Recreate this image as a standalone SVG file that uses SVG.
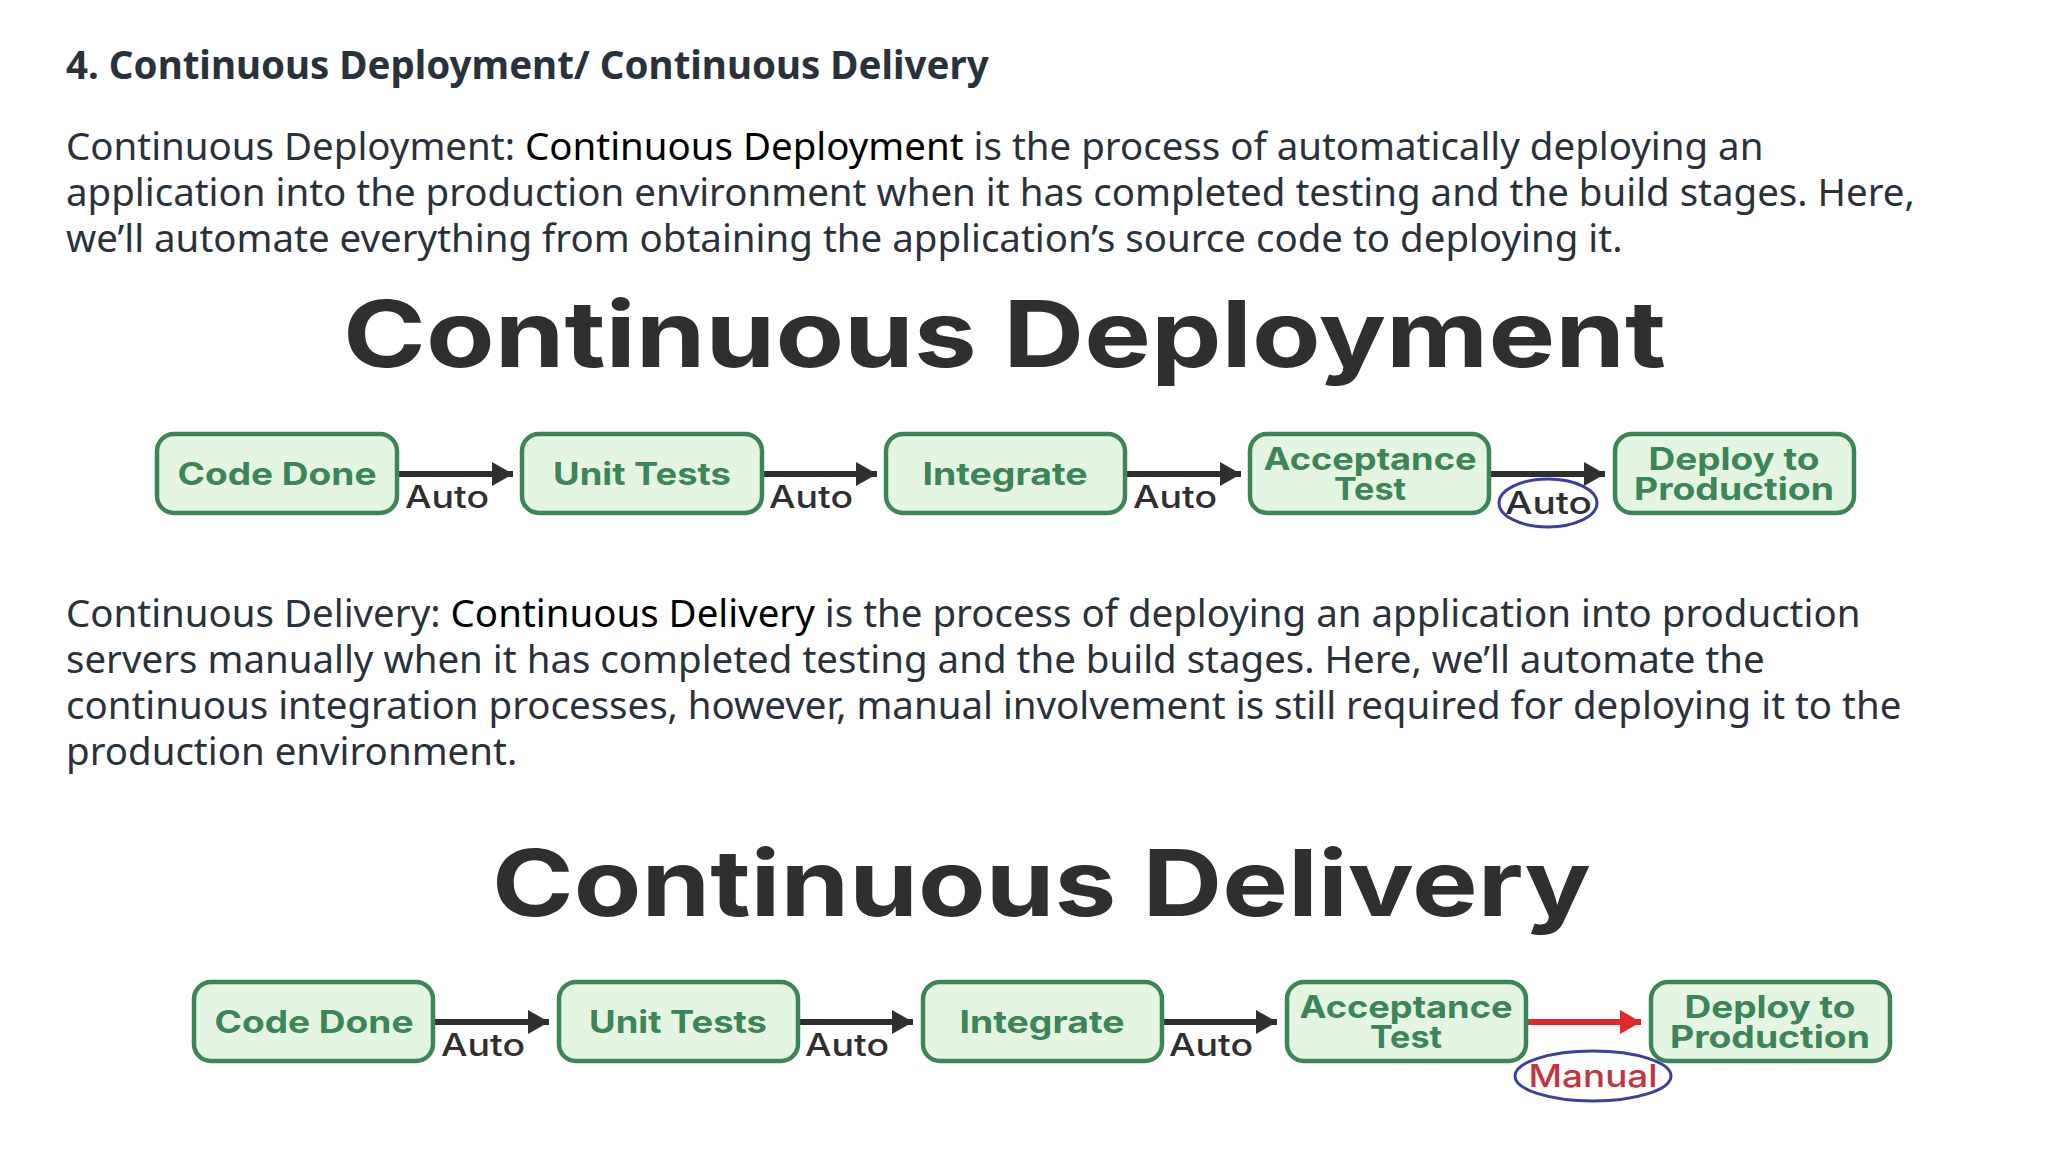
<svg xmlns="http://www.w3.org/2000/svg" width="2048" height="1152" viewBox="0 0 2048 1152">
<style>
.h{font:700 38.5px "Noto Sans",sans-serif;fill:#29323b}
.b{font:400 38.45px "Noto Sans",sans-serif;fill:#29323b}
.k{fill:#000}
.t{font:700 92px "Inter",sans-serif;fill:#2f2f2f}
.box{fill:#e4f6e2;stroke:#3b8557;stroke-width:4.5}
.n{font:700 31px "Inter",sans-serif;fill:#3b8557;text-anchor:middle}
.a{font:500 31px "Inter",sans-serif;fill:#2f2f2f}
.m{font:500 31px "Inter",sans-serif;fill:#c4343f;text-anchor:middle}
.e{fill:none;stroke:#3d3f9e;stroke-width:3}
.c{stroke:#2f2f2f;stroke-width:6;fill:none;marker-end:url(#ah)}
.r{stroke:#e0282c;stroke-width:6;fill:none;marker-end:url(#ar)}
</style>
<defs>
<marker id="ah" markerUnits="userSpaceOnUse" markerWidth="22" markerHeight="24" refX="21" refY="12" orient="auto"><path d="M0 0L21 12L0 24Z" fill="#2f2f2f"/></marker>
<marker id="ar" markerUnits="userSpaceOnUse" markerWidth="22" markerHeight="24" refX="21" refY="12" orient="auto"><path d="M0 0L21 12L0 24Z" fill="#e0282c"/></marker>
</defs>
<rect width="2048" height="1152" fill="#fff"/>
<g id="text">
<text class="h" x="66" y="79">4. Continuous Deployment/ Continuous Delivery</text>
<text class="b" x="66" y="160">Continuous Deployment: <tspan class="k">Continuous Deployment</tspan> is the process of automatically deploying an</text>
<text class="b" x="66" y="206">application into the production environment when it has completed testing and the build stages. Here,</text>
<text class="b" x="66" y="252">we’ll automate everything from obtaining the application’s source code to deploying it.</text>
<text class="b" x="66" y="627">Continuous Delivery: <tspan class="k">Continuous Delivery</tspan> is the process of deploying an application into production</text>
<text class="b" x="66" y="673">servers manually when it has completed testing and the build stages. Here, we’ll automate the</text>
<text class="b" x="66" y="719">continuous integration processes, however, manual involvement is still required for deploying it to the</text>
<text class="b" x="66" y="765">production environment.</text>
<text class="t" x="343" y="367" textLength="1323" lengthAdjust="spacingAndGlyphs">Continuous Deployment</text>
<text class="t" x="492" y="916" textLength="1099" lengthAdjust="spacingAndGlyphs">Continuous Delivery</text>
</g>
<g id="connectors">
<path class="c" d="M398 474H513"/><path class="c" d="M762 474H877"/><path class="c" d="M1126 474H1241"/><path class="c" d="M1490 474H1605"/>
<path class="c" d="M434 1022H549"/><path class="c" d="M798 1022H913"/><path class="c" d="M1162 1022H1277"/><path class="r" d="M1526 1022H1641"/>
</g>
<g id="d1"><rect class="box" x="157" y="434" width="240" height="79" rx="17"/><text class="n" x="277" y="485" textLength="199" lengthAdjust="spacingAndGlyphs">Code Done</text></g>
<g id="d2"><rect class="box" x="522" y="434" width="240" height="79" rx="17"/><text class="n" x="642" y="485" textLength="178" lengthAdjust="spacingAndGlyphs">Unit Tests</text></g>
<g id="d3"><rect class="box" x="886" y="434" width="239" height="79" rx="17"/><text class="n" x="1005" y="485" textLength="165" lengthAdjust="spacingAndGlyphs">Integrate</text></g>
<g id="d4"><rect class="box" x="1250" y="434" width="239" height="79" rx="17"/><text class="n" x="1370" y="470" textLength="213" lengthAdjust="spacingAndGlyphs">Acceptance</text><text class="n" x="1370" y="500" textLength="72" lengthAdjust="spacingAndGlyphs">Test</text></g>
<g id="d5"><rect class="box" x="1615" y="434" width="239" height="79" rx="17"/><text class="n" x="1734" y="470" textLength="171" lengthAdjust="spacingAndGlyphs">Deploy to</text><text class="n" x="1734" y="500" textLength="200" lengthAdjust="spacingAndGlyphs">Production</text></g>
<g id="dl">
<text class="a" x="405" y="508" textLength="84" lengthAdjust="spacingAndGlyphs">Auto</text><text class="a" x="769" y="508" textLength="84" lengthAdjust="spacingAndGlyphs">Auto</text><text class="a" x="1133" y="508" textLength="84" lengthAdjust="spacingAndGlyphs">Auto</text><text class="a" x="1505" y="514" textLength="87" lengthAdjust="spacingAndGlyphs">Auto</text>
<ellipse class="e" cx="1548" cy="503" rx="49" ry="24"/>
</g>
<g id="e1"><rect class="box" x="194" y="982" width="239" height="79" rx="17"/><text class="n" x="314" y="1033" textLength="199" lengthAdjust="spacingAndGlyphs">Code Done</text></g>
<g id="e2"><rect class="box" x="559" y="982" width="239" height="79" rx="17"/><text class="n" x="678" y="1033" textLength="178" lengthAdjust="spacingAndGlyphs">Unit Tests</text></g>
<g id="e3"><rect class="box" x="923" y="982" width="239" height="79" rx="17"/><text class="n" x="1042" y="1033" textLength="165" lengthAdjust="spacingAndGlyphs">Integrate</text></g>
<g id="e4"><rect class="box" x="1287" y="982" width="239" height="79" rx="17"/><text class="n" x="1406" y="1018" textLength="213" lengthAdjust="spacingAndGlyphs">Acceptance</text><text class="n" x="1406" y="1048" textLength="72" lengthAdjust="spacingAndGlyphs">Test</text></g>
<g id="e5"><rect class="box" x="1651" y="982" width="239" height="79" rx="17"/><text class="n" x="1770" y="1018" textLength="171" lengthAdjust="spacingAndGlyphs">Deploy to</text><text class="n" x="1770" y="1048" textLength="200" lengthAdjust="spacingAndGlyphs">Production</text></g>
<g id="el">
<text class="a" x="441" y="1056" textLength="84" lengthAdjust="spacingAndGlyphs">Auto</text><text class="a" x="805" y="1056" textLength="84" lengthAdjust="spacingAndGlyphs">Auto</text><text class="a" x="1169" y="1056" textLength="84" lengthAdjust="spacingAndGlyphs">Auto</text>
<text class="m" x="1593" y="1087" textLength="129" lengthAdjust="spacingAndGlyphs">Manual</text>
<ellipse class="e" cx="1593" cy="1076" rx="78" ry="25"/>
</g>
</svg>
